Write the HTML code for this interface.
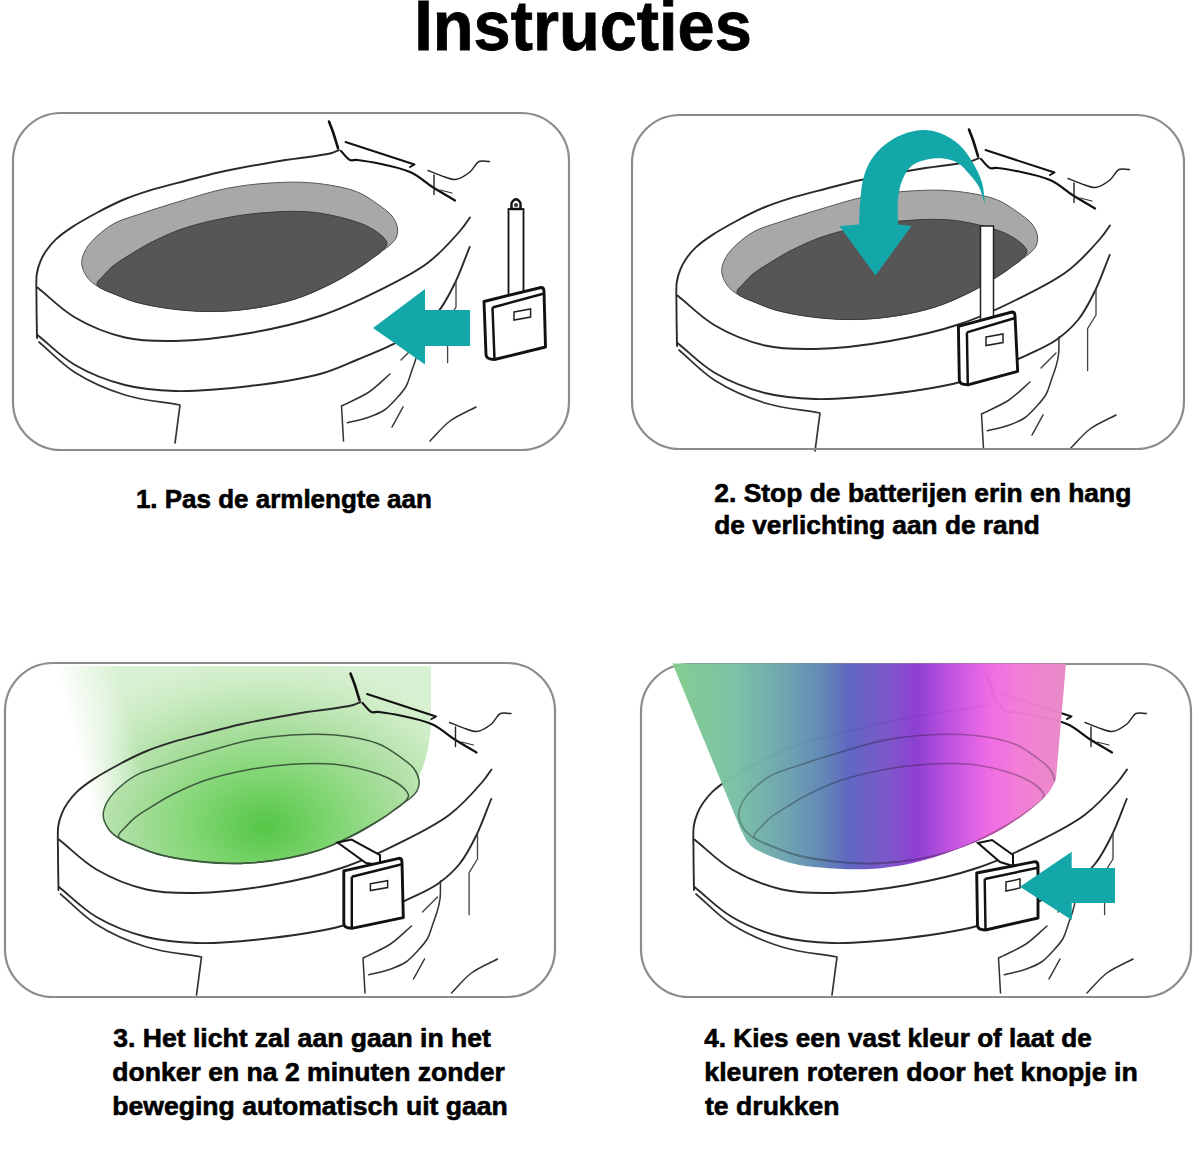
<!DOCTYPE html>
<html><head><meta charset="utf-8"><title>Instructies</title>
<style>
html,body{margin:0;padding:0;background:#fff;}
body{width:1200px;height:1150px;overflow:hidden;position:relative;}
svg{position:absolute;left:0;top:0;}
text{font-family:"Liberation Sans",sans-serif;font-weight:bold;fill:#000;}
</style></head><body>
<svg width="1200" height="1150" viewBox="0 0 1200 1150">
<defs>
<linearGradient id="rainbow" x1="672" y1="0" x2="1066" y2="0" gradientUnits="userSpaceOnUse">
<stop offset="0" stop-color="#80cc8a"/>
<stop offset="0.16" stop-color="#78c0a6"/>
<stop offset="0.30" stop-color="#6a9fb0"/>
<stop offset="0.38" stop-color="#5f86b4"/>
<stop offset="0.45" stop-color="#5a62c0"/>
<stop offset="0.55" stop-color="#7a52c8"/>
<stop offset="0.62" stop-color="#8a3ad0"/>
<stop offset="0.71" stop-color="#c14ee0"/>
<stop offset="0.80" stop-color="#ee66e4"/>
<stop offset="0.88" stop-color="#f27ad6"/>
<stop offset="1" stop-color="#e889c4"/>
</linearGradient>
<radialGradient id="greenglow" cx="265" cy="826" r="235" gradientUnits="userSpaceOnUse" gradientTransform="translate(265 826) scale(1 0.72) translate(-265 -826)">
<stop offset="0" stop-color="#55c646"/>
<stop offset="0.3" stop-color="#80d672"/>
<stop offset="0.6" stop-color="#addfa2"/>
<stop offset="0.85" stop-color="#cdecc5"/>
<stop offset="1" stop-color="#d9f1d3"/>
</radialGradient>
<linearGradient id="fadeL" x1="50" y1="0" x2="140" y2="0" gradientUnits="userSpaceOnUse">
<stop offset="0" stop-color="#fff" stop-opacity="1"/>
<stop offset="1" stop-color="#fff" stop-opacity="0"/>
</linearGradient>
<linearGradient id="fadeMask" x1="73" y1="737.2" x2="131" y2="721.8" gradientUnits="userSpaceOnUse">
<stop offset="0" stop-color="#fff" stop-opacity="0"/>
<stop offset="1" stop-color="#fff" stop-opacity="1"/>
</linearGradient>
</defs>

<text x="414.3" y="49.5" font-size="70" textLength="337.5" stroke="#000" stroke-width="0.8" lengthAdjust="spacingAndGlyphs">Instructies</text>
<g id="p1">
<path d="M81.7,263.5C81.5,259.3 83.2,254.8 85.0,251.0C86.8,247.2 89.1,244.2 92.6,240.5C97.6,235.3 105.7,228.2 113.5,223.8C121.5,219.3 130.0,217.4 140.0,214.0C152.6,209.7 168.8,204.6 183.3,200.3C197.7,196.0 212.1,191.3 226.7,188.4C241.0,185.6 255.5,183.9 270.0,183.0C284.4,182.1 298.9,181.6 313.3,183.0C327.8,184.4 345.0,187.2 356.7,191.7C365.5,195.1 372.1,200.3 378.3,204.7C383.5,208.4 388.7,211.8 392.0,216.0C394.8,219.7 396.9,224.1 397.5,228.0C398.0,231.4 397.4,235.0 396.0,238.0C394.6,241.0 391.5,243.8 389.0,246.0C386.8,248.0 384.5,249.1 382.0,251.0C379.0,253.2 375.4,256.0 372.0,258.5C368.5,261.1 366.5,263.0 361.2,266.2C348.9,273.6 319.8,291.0 296.7,298.5C272.6,306.3 245.1,310.6 219.2,311.4C193.4,312.2 160.5,307.7 141.7,303.6C130.6,301.1 123.7,297.8 115.8,294.6C109.0,291.9 102.1,289.3 97.0,286.0C92.9,283.3 89.5,280.7 87.0,277.0C84.4,273.2 82.0,268.0 81.7,263.5Z" fill="#a8a8a8" stroke="#555" stroke-width="1"/><path d="M97.0,284.4C96.4,281.5 101.4,278.0 104.0,275.0C106.8,271.8 109.5,268.8 113.5,265.6C118.9,261.2 127.9,256.0 134.4,252.0C139.9,248.6 143.7,246.2 150.0,243.0C158.9,238.5 171.3,232.6 183.3,228.5C196.6,224.0 212.2,220.4 226.7,217.7C241.1,215.0 255.5,213.2 270.0,212.3C284.4,211.4 298.9,210.7 313.3,212.3C327.8,213.9 345.7,218.3 356.7,222.0C363.9,224.4 369.2,227.0 374.0,230.0C378.0,232.5 381.8,235.3 384.0,238.0C385.6,240.0 387.2,242.0 387.0,244.0C386.8,246.3 384.2,248.8 382.0,251.0C379.4,253.7 375.4,256.0 372.0,258.5C368.5,261.1 365.6,263.3 361.2,266.2C354.5,270.6 345.1,276.7 335.4,281.7C324.0,287.6 309.8,294.2 296.7,298.5C284.0,302.7 270.9,305.3 257.9,307.5C245.1,309.6 232.1,311.0 219.2,311.4C206.3,311.8 193.3,311.3 180.4,310.0C167.4,308.7 153.2,306.5 141.7,303.6C132.1,301.2 123.6,298.1 115.8,294.6C108.9,291.6 97.9,288.3 97.0,284.4Z" fill="#575556" stroke="#3a3a3a" stroke-width="1"/>
<path d="M339.0,150.0C336.6,151.0 335.4,152.0 331.7,153.0C321.8,155.8 293.9,158.5 275.0,161.7C256.1,165.0 234.7,168.9 218.4,172.5C205.8,175.3 196.3,178.1 185.0,181.0C173.5,184.0 160.7,187.1 150.0,190.4C140.6,193.3 132.6,195.9 124.0,199.5C115.1,203.2 106.1,207.8 97.4,212.5C88.6,217.2 78.8,222.6 71.3,227.6C65.3,231.6 60.0,235.4 55.6,239.6C51.8,243.2 48.6,247.2 46.0,251.0C43.7,254.4 41.9,257.7 40.4,261.4C38.8,265.3 37.5,269.0 36.8,274.0C35.8,281.1 36.5,290.5 36.5,300.0C36.5,311.5 36.8,325.3 37.0,338.0" fill="none" stroke="#2a2a2a" stroke-width="1.9" stroke-linecap="round" stroke-linejoin="round" />
<path d="M37.5,287.5C50.0,297.5 60.9,309.3 75.0,317.5C89.9,326.2 108.0,333.6 125.0,337.5C141.4,341.3 156.7,341.3 175.0,341.0C197.5,340.6 225.6,337.3 250.0,333.0C273.9,328.8 298.0,323.4 320.0,316.0C340.7,309.1 360.3,299.8 378.7,290.6C396.0,282.0 413.5,273.7 427.6,263.0C440.5,253.2 453.4,238.6 460.8,230.0C465.1,225.0 466.9,221.7 470.0,217.5" fill="none" stroke="#2a2a2a" stroke-width="1.9" stroke-linecap="round" stroke-linejoin="round" />
<path d="M37.5,335.0C50.0,345.0 60.9,356.8 75.0,365.0C89.9,373.7 108.0,380.7 125.0,385.0C141.4,389.2 156.6,390.5 175.0,391.0C197.4,391.6 225.5,388.9 250.0,386.0C273.8,383.2 300.3,379.4 320.0,374.0C335.1,369.8 346.9,363.9 359.0,359.0C369.6,354.7 378.9,351.0 388.5,346.4C398.0,341.9 408.1,337.6 416.5,331.7C424.5,326.0 431.7,319.7 438.0,312.0C444.7,303.7 449.9,293.4 455.0,283.0C460.5,271.8 464.8,259.0 469.7,247.0" fill="none" stroke="#2a2a2a" stroke-width="1.9" stroke-linecap="round" stroke-linejoin="round" />
<path d="M39.0,342.0C51.0,352.2 61.3,363.9 75.0,372.5C89.7,381.8 107.6,389.6 125.0,395.0C142.6,400.5 161.7,401.7 180.0,405.0 L175,443" fill="none" stroke="#333" stroke-width="1.71" stroke-linecap="round" stroke-linejoin="round" />
<path d="M419.0,329.0C418.8,335.0 419.2,341.6 418.5,347.0C417.9,351.4 417.0,354.9 415.8,359.0C414.5,363.5 412.6,368.4 411.0,373.0C409.4,377.6 408.4,382.3 406.0,386.5C403.5,391.0 399.6,395.1 396.0,399.0C392.4,402.9 389.0,407.0 384.5,410.0C379.7,413.2 373.9,415.4 368.0,417.5C361.6,419.7 354.3,421.0 347.4,422.7" fill="none" stroke="#333" stroke-width="1.52" stroke-linecap="round" stroke-linejoin="round" />
<path d="M390.0,374.0C383.0,380.0 376.8,386.8 369.0,392.0C360.7,397.5 350.7,401.3 341.5,406.0 L343.5,441" fill="none" stroke="#333" stroke-width="1.52" stroke-linecap="round" stroke-linejoin="round" />
<path d="M456.0,281.0 L456.0,307.0 L447.6,320.6 L447.6,362.7" fill="none" stroke="#444" stroke-width="1.3299999999999998" stroke-linecap="round" stroke-linejoin="round" />
<path d="M392.0,427.0 L403.0,407.0" fill="none" stroke="#333" stroke-width="1.52" stroke-linecap="round" stroke-linejoin="round" />
<path d="M430.0,441.0C436.7,434.3 442.4,426.6 450.0,421.0C457.7,415.2 467.3,411.7 476.0,407.0" fill="none" stroke="#333" stroke-width="1.52" stroke-linecap="round" stroke-linejoin="round" />
<path d="M401.0,360.0 L416.0,345.0" fill="none" stroke="#444" stroke-width="1.3299999999999998" stroke-linecap="round" stroke-linejoin="round" />
<path d="M329.0,121.5C330.3,125.0 331.7,128.1 333.0,132.0C334.6,136.8 336.3,142.7 338.0,148.0" fill="none" stroke="#111" stroke-width="2.6" stroke-linecap="round" stroke-linejoin="round" />
<path d="M345.5,142.0 L414.5,164.5 L410.0,167.0" fill="none" stroke="#111" stroke-width="2.0" stroke-linecap="round" stroke-linejoin="round" />
<path d="M341.0,151.0C344.0,154.0 346.9,158.7 350.0,160.0C352.4,161.0 353.9,159.6 357.5,160.0C367.1,161.1 396.5,166.2 410.0,172.0C419.5,176.1 424.9,182.2 432.5,187.0C439.9,191.7 447.5,196.0 455.0,200.5" fill="none" stroke="#111" stroke-width="2.2" stroke-linecap="round" stroke-linejoin="round" />
<path d="M428.0,170.5C433.7,172.7 440.0,175.4 445.0,177.0C448.7,178.2 451.4,179.9 455.0,179.5C459.6,179.0 465.9,175.2 470.0,172.0C473.7,169.1 475.5,163.1 479.0,161.5C482.1,160.1 486.0,161.5 489.5,161.5" fill="none" stroke="#222" stroke-width="1.4" stroke-linecap="round" stroke-linejoin="round" />
<path d="M434.0,175.0 L434.0,194.5" fill="none" stroke="#222" stroke-width="1.4" stroke-linecap="round" stroke-linejoin="round" />
<path d="M440.0,190.0 L452.0,193.0" fill="none" stroke="#333" stroke-width="1.2" stroke-linecap="round" stroke-linejoin="round" />
<path d="M373.0,328.0 L425.0,289.0 L425.0,310.0 L470.0,310.0 L470.0,346.0 L425.0,346.0 L425.0,364.5Z" fill="#14a7a9"/>
<rect x="508.5" y="209" width="15" height="86" fill="#fff" stroke="#111" stroke-width="1.8"/>
<path d="M511.5,209 L511.5,203 Q516,195.5 520.5,203 L520.5,209 Z" fill="#fff" stroke="#111" stroke-width="2.4"/>
<circle cx="516" cy="205" r="2" fill="#333"/>
<path d="M484,301.5 L541,287.5 Q544,287.5 544,291.5 L545.5,347 L494.5,359.5 Q486,359.5 486,354.5 Z" fill="#fff" stroke="#111" stroke-width="2.9" stroke-linejoin="round"/><path d="M492.5,307.5 L544,293.5 M492.5,307.5 L494.5,359.5" fill="none" stroke="#111" stroke-width="2.465"/><path d="M514,312 L530.6,309 L530.6,317 L514,320 Z" fill="none" stroke="#222" stroke-width="1.5"/>
</g>
<rect x="13" y="113" width="556" height="337" rx="48" ry="48" fill="none" stroke="#8c8c8c" stroke-width="2.2"/>
<g id="p2" transform="translate(640 8)">
<path d="M81.7,263.5C81.5,259.3 83.2,254.8 85.0,251.0C86.8,247.2 89.1,244.2 92.6,240.5C97.6,235.3 105.7,228.2 113.5,223.8C121.5,219.3 130.0,217.4 140.0,214.0C152.6,209.7 168.8,204.6 183.3,200.3C197.7,196.0 212.1,191.3 226.7,188.4C241.0,185.6 255.5,183.9 270.0,183.0C284.4,182.1 298.9,181.6 313.3,183.0C327.8,184.4 345.0,187.2 356.7,191.7C365.5,195.1 372.1,200.3 378.3,204.7C383.5,208.4 388.7,211.8 392.0,216.0C394.8,219.7 396.9,224.1 397.5,228.0C398.0,231.4 397.4,235.0 396.0,238.0C394.6,241.0 391.5,243.8 389.0,246.0C386.8,248.0 384.5,249.1 382.0,251.0C379.0,253.2 375.4,256.0 372.0,258.5C368.5,261.1 366.5,263.0 361.2,266.2C348.9,273.6 319.8,291.0 296.7,298.5C272.6,306.3 245.1,310.6 219.2,311.4C193.4,312.2 160.5,307.7 141.7,303.6C130.6,301.1 123.7,297.8 115.8,294.6C109.0,291.9 102.1,289.3 97.0,286.0C92.9,283.3 89.5,280.7 87.0,277.0C84.4,273.2 82.0,268.0 81.7,263.5Z" fill="#a8a8a8" stroke="#555" stroke-width="1"/><path d="M97.0,284.4C96.4,281.5 101.4,278.0 104.0,275.0C106.8,271.8 109.5,268.8 113.5,265.6C118.9,261.2 127.9,256.0 134.4,252.0C139.9,248.6 143.7,246.2 150.0,243.0C158.9,238.5 171.3,232.6 183.3,228.5C196.6,224.0 212.2,220.4 226.7,217.7C241.1,215.0 255.5,213.2 270.0,212.3C284.4,211.4 298.9,210.7 313.3,212.3C327.8,213.9 345.7,218.3 356.7,222.0C363.9,224.4 369.2,227.0 374.0,230.0C378.0,232.5 381.8,235.3 384.0,238.0C385.6,240.0 387.2,242.0 387.0,244.0C386.8,246.3 384.2,248.8 382.0,251.0C379.4,253.7 375.4,256.0 372.0,258.5C368.5,261.1 365.6,263.3 361.2,266.2C354.5,270.6 345.1,276.7 335.4,281.7C324.0,287.6 309.8,294.2 296.7,298.5C284.0,302.7 270.9,305.3 257.9,307.5C245.1,309.6 232.1,311.0 219.2,311.4C206.3,311.8 193.3,311.3 180.4,310.0C167.4,308.7 153.2,306.5 141.7,303.6C132.1,301.2 123.6,298.1 115.8,294.6C108.9,291.6 97.9,288.3 97.0,284.4Z" fill="#575556" stroke="#3a3a3a" stroke-width="1"/>
<path d="M339.0,150.0C336.6,151.0 335.4,152.0 331.7,153.0C321.8,155.8 293.9,158.5 275.0,161.7C256.1,165.0 234.7,168.9 218.4,172.5C205.8,175.3 196.3,178.1 185.0,181.0C173.5,184.0 160.7,187.1 150.0,190.4C140.6,193.3 132.6,195.9 124.0,199.5C115.1,203.2 106.1,207.8 97.4,212.5C88.6,217.2 78.8,222.6 71.3,227.6C65.3,231.6 60.0,235.4 55.6,239.6C51.8,243.2 48.6,247.2 46.0,251.0C43.7,254.4 41.9,257.7 40.4,261.4C38.8,265.3 37.5,269.0 36.8,274.0C35.8,281.1 36.5,290.5 36.5,300.0C36.5,311.5 36.8,325.3 37.0,338.0" fill="none" stroke="#2a2a2a" stroke-width="1.9" stroke-linecap="round" stroke-linejoin="round" />
<path d="M37.5,287.5C50.0,297.5 60.9,309.3 75.0,317.5C89.9,326.2 108.0,333.6 125.0,337.5C141.4,341.3 156.7,341.3 175.0,341.0C197.5,340.6 225.6,337.3 250.0,333.0C273.9,328.8 298.0,323.4 320.0,316.0C340.7,309.1 360.3,299.8 378.7,290.6C396.0,282.0 413.5,273.7 427.6,263.0C440.5,253.2 453.4,238.6 460.8,230.0C465.1,225.0 466.9,221.7 470.0,217.5" fill="none" stroke="#2a2a2a" stroke-width="1.9" stroke-linecap="round" stroke-linejoin="round" />
<path d="M37.5,335.0C50.0,345.0 60.9,356.8 75.0,365.0C89.9,373.7 108.0,380.7 125.0,385.0C141.4,389.2 156.6,390.5 175.0,391.0C197.4,391.6 225.5,388.9 250.0,386.0C273.8,383.2 300.3,379.4 320.0,374.0C335.1,369.8 346.9,363.9 359.0,359.0C369.6,354.7 378.9,351.0 388.5,346.4C398.0,341.9 408.1,337.6 416.5,331.7C424.5,326.0 431.7,319.7 438.0,312.0C444.7,303.7 449.9,293.4 455.0,283.0C460.5,271.8 464.8,259.0 469.7,247.0" fill="none" stroke="#2a2a2a" stroke-width="1.9" stroke-linecap="round" stroke-linejoin="round" />
<path d="M39.0,342.0C51.0,352.2 61.3,363.9 75.0,372.5C89.7,381.8 107.6,389.6 125.0,395.0C142.6,400.5 161.7,401.7 180.0,405.0 L175,443" fill="none" stroke="#333" stroke-width="1.71" stroke-linecap="round" stroke-linejoin="round" />
<path d="M419.0,329.0C418.8,335.0 419.2,341.6 418.5,347.0C417.9,351.4 417.0,354.9 415.8,359.0C414.5,363.5 412.6,368.4 411.0,373.0C409.4,377.6 408.4,382.3 406.0,386.5C403.5,391.0 399.6,395.1 396.0,399.0C392.4,402.9 389.0,407.0 384.5,410.0C379.7,413.2 373.9,415.4 368.0,417.5C361.6,419.7 354.3,421.0 347.4,422.7" fill="none" stroke="#333" stroke-width="1.52" stroke-linecap="round" stroke-linejoin="round" />
<path d="M390.0,374.0C383.0,380.0 376.8,386.8 369.0,392.0C360.7,397.5 350.7,401.3 341.5,406.0 L343.5,441" fill="none" stroke="#333" stroke-width="1.52" stroke-linecap="round" stroke-linejoin="round" />
<path d="M456.0,281.0 L456.0,307.0 L447.6,320.6 L447.6,362.7" fill="none" stroke="#444" stroke-width="1.3299999999999998" stroke-linecap="round" stroke-linejoin="round" />
<path d="M392.0,427.0 L403.0,407.0" fill="none" stroke="#333" stroke-width="1.52" stroke-linecap="round" stroke-linejoin="round" />
<path d="M430.0,441.0C436.7,434.3 442.4,426.6 450.0,421.0C457.7,415.2 467.3,411.7 476.0,407.0" fill="none" stroke="#333" stroke-width="1.52" stroke-linecap="round" stroke-linejoin="round" />
<path d="M401.0,360.0 L416.0,345.0" fill="none" stroke="#444" stroke-width="1.3299999999999998" stroke-linecap="round" stroke-linejoin="round" />
<path d="M329.0,121.5C330.3,125.0 331.7,128.1 333.0,132.0C334.6,136.8 336.3,142.7 338.0,148.0" fill="none" stroke="#111" stroke-width="2.6" stroke-linecap="round" stroke-linejoin="round" />
<path d="M345.5,142.0 L414.5,164.5 L410.0,167.0" fill="none" stroke="#111" stroke-width="2.0" stroke-linecap="round" stroke-linejoin="round" />
<path d="M341.0,151.0C344.0,154.0 346.9,158.7 350.0,160.0C352.4,161.0 353.9,159.6 357.5,160.0C367.1,161.1 396.5,166.2 410.0,172.0C419.5,176.1 424.9,182.2 432.5,187.0C439.9,191.7 447.5,196.0 455.0,200.5" fill="none" stroke="#111" stroke-width="2.2" stroke-linecap="round" stroke-linejoin="round" />
<path d="M428.0,170.5C433.7,172.7 440.0,175.4 445.0,177.0C448.7,178.2 451.4,179.9 455.0,179.5C459.6,179.0 465.9,175.2 470.0,172.0C473.7,169.1 475.5,163.1 479.0,161.5C482.1,160.1 486.0,161.5 489.5,161.5" fill="none" stroke="#222" stroke-width="1.4" stroke-linecap="round" stroke-linejoin="round" />
<path d="M434.0,175.0 L434.0,194.5" fill="none" stroke="#222" stroke-width="1.4" stroke-linecap="round" stroke-linejoin="round" />
<path d="M440.0,190.0 L452.0,193.0" fill="none" stroke="#333" stroke-width="1.2" stroke-linecap="round" stroke-linejoin="round" />
</g>
<path d="M985.0,205.0C984.0,197.5 984.1,189.6 982.0,182.5C980.0,175.6 976.7,169.2 973.0,163.0C969.2,156.7 965.0,150.0 959.5,145.0C954.0,140.0 946.6,135.5 940.0,133.0C934.1,130.8 928.1,129.8 922.0,130.0C915.6,130.2 908.7,132.0 902.5,134.5C896.2,137.0 889.8,140.7 884.5,145.0C879.3,149.2 874.5,154.4 871.0,160.0C867.5,165.5 865.2,171.8 863.5,178.0C861.7,184.3 861.2,190.5 860.5,197.5C859.6,205.8 859.5,215.5 859.0,224.5 L839.5,226 L875.5,275.5 L911.5,226 L898.0,224.5C898.0,216.0 897.1,206.9 898.0,199.0C898.8,192.0 900.0,185.2 902.5,179.5C904.7,174.4 907.6,169.3 911.5,166.0C915.2,162.9 920.1,161.3 925.0,160.0C930.5,158.6 937.3,157.9 943.0,158.5C948.3,159.1 953.6,160.4 958.0,163.0C962.6,165.8 966.4,170.9 970.0,175.0C973.4,178.9 976.6,182.4 979.0,187.0C981.7,192.2 983.0,199.0 985.0,205.0 Z" fill="#14a7a9"/>
<rect x="980.5" y="226" width="13" height="94" fill="#fff" stroke="#222" stroke-width="1.5"/>
<path d="M958.4,326.4 L1012,312 Q1015,312 1015,316 L1017.7,371.3 L967.8,384.8 Q959.3,384.8 959.3,379.8 Z" fill="#fff" stroke="#111" stroke-width="2.9" stroke-linejoin="round"/><path d="M966.9,332.4 L1015,318 M966.9,332.4 L967.8,384.8" fill="none" stroke="#111" stroke-width="2.465"/><path d="M986,337 L1003,334 L1003,342.5 L986,345.5 Z" fill="none" stroke="#222" stroke-width="1.5"/>
<rect x="632" y="115" width="552" height="334" rx="48" ry="48" fill="none" stroke="#8c8c8c" stroke-width="2.2"/>
<mask id="coneMask" maskUnits="userSpaceOnUse" x="0" y="600" width="600" height="400"><rect x="0" y="600" width="600" height="400" fill="url(#fadeMask)"/></mask>
<path d="M20,666 L431,666 L431,722 C 430,745 425,765 418,778 L300,800 L120,822 L80,822 Z" fill="url(#greenglow)" mask="url(#coneMask)"/>
<path d="M103.2,815.5C103.0,811.3 104.7,806.8 106.5,803.0C108.3,799.2 110.6,796.2 114.1,792.5C119.1,787.3 127.2,780.2 135.0,775.8C143.0,771.3 151.5,769.4 161.5,766.0C174.1,761.7 190.3,756.6 204.8,752.3C219.2,748.0 233.6,743.3 248.2,740.4C262.5,737.6 277.0,735.9 291.5,735.0C305.9,734.1 320.4,733.6 334.8,735.0C349.3,736.4 366.5,739.2 378.2,743.7C387.0,747.1 393.6,752.3 399.8,756.7C405.0,760.4 410.2,763.8 413.5,768.0C416.3,771.7 418.4,776.1 419.0,780.0C419.5,783.4 418.9,787.0 417.5,790.0C416.1,793.0 413.0,795.8 410.5,798.0C408.3,800.0 406.0,801.1 403.5,803.0C400.5,805.2 396.9,808.0 393.5,810.5C390.0,813.1 388.0,815.0 382.7,818.2C370.4,825.6 341.3,843.0 318.2,850.5C294.1,858.3 266.6,862.6 240.7,863.4C214.9,864.2 182.0,859.7 163.2,855.6C152.1,853.1 145.2,849.8 137.3,846.6C130.5,843.9 123.6,841.3 118.5,838.0C114.4,835.3 111.0,832.7 108.5,829.0C105.9,825.2 103.5,820.0 103.2,815.5Z" fill="url(#greenglow)"/>
<g transform="translate(21.5 552)">
<path d="M81.7,263.5C81.5,259.3 83.2,254.8 85.0,251.0C86.8,247.2 89.1,244.2 92.6,240.5C97.6,235.3 105.7,228.2 113.5,223.8C121.5,219.3 130.0,217.4 140.0,214.0C152.6,209.7 168.8,204.6 183.3,200.3C197.7,196.0 212.1,191.3 226.7,188.4C241.0,185.6 255.5,183.9 270.0,183.0C284.4,182.1 298.9,181.6 313.3,183.0C327.8,184.4 345.0,187.2 356.7,191.7C365.5,195.1 372.1,200.3 378.3,204.7C383.5,208.4 388.7,211.8 392.0,216.0C394.8,219.7 396.9,224.1 397.5,228.0C398.0,231.4 397.4,235.0 396.0,238.0C394.6,241.0 391.5,243.8 389.0,246.0C386.8,248.0 384.5,249.1 382.0,251.0C379.0,253.2 375.4,256.0 372.0,258.5C368.5,261.1 366.5,263.0 361.2,266.2C348.9,273.6 319.8,291.0 296.7,298.5C272.6,306.3 245.1,310.6 219.2,311.4C193.4,312.2 160.5,307.7 141.7,303.6C130.6,301.1 123.7,297.8 115.8,294.6C109.0,291.9 102.1,289.3 97.0,286.0C92.9,283.3 89.5,280.7 87.0,277.0C84.4,273.2 82.0,268.0 81.7,263.5Z" fill="none" stroke="#3d5a3d" stroke-width="1.5"/><path d="M97.0,284.4C96.4,281.5 101.4,278.0 104.0,275.0C106.8,271.8 109.5,268.8 113.5,265.6C118.9,261.2 127.9,256.0 134.4,252.0C139.9,248.6 143.7,246.2 150.0,243.0C158.9,238.5 171.3,232.6 183.3,228.5C196.6,224.0 212.2,220.4 226.7,217.7C241.1,215.0 255.5,213.2 270.0,212.3C284.4,211.4 298.9,210.7 313.3,212.3C327.8,213.9 345.7,218.3 356.7,222.0C363.9,224.4 369.2,227.0 374.0,230.0C378.0,232.5 381.8,235.3 384.0,238.0C385.6,240.0 387.2,242.0 387.0,244.0C386.8,246.3 384.2,248.8 382.0,251.0C379.4,253.7 375.4,256.0 372.0,258.5C368.5,261.1 365.6,263.3 361.2,266.2C354.5,270.6 345.1,276.7 335.4,281.7C324.0,287.6 309.8,294.2 296.7,298.5C284.0,302.7 270.9,305.3 257.9,307.5C245.1,309.6 232.1,311.0 219.2,311.4C206.3,311.8 193.3,311.3 180.4,310.0C167.4,308.7 153.2,306.5 141.7,303.6C132.1,301.2 123.6,298.1 115.8,294.6C108.9,291.6 97.9,288.3 97.0,284.4Z" fill="none" stroke="#3d5a3d" stroke-width="1.5"/>
<path d="M339.0,150.0C336.6,151.0 335.4,152.0 331.7,153.0C321.8,155.8 293.9,158.5 275.0,161.7C256.1,165.0 234.7,168.9 218.4,172.5C205.8,175.3 196.3,178.1 185.0,181.0C173.5,184.0 160.7,187.1 150.0,190.4C140.6,193.3 132.6,195.9 124.0,199.5C115.1,203.2 106.1,207.8 97.4,212.5C88.6,217.2 78.8,222.6 71.3,227.6C65.3,231.6 60.0,235.4 55.6,239.6C51.8,243.2 48.6,247.2 46.0,251.0C43.7,254.4 41.9,257.7 40.4,261.4C38.8,265.3 37.5,269.0 36.8,274.0C35.8,281.1 36.5,290.5 36.5,300.0C36.5,311.5 36.8,325.3 37.0,338.0" fill="none" stroke="#2a2a2a" stroke-width="1.9" stroke-linecap="round" stroke-linejoin="round" />
<path d="M37.5,287.5C50.0,297.5 60.9,309.3 75.0,317.5C89.9,326.2 108.0,333.6 125.0,337.5C141.4,341.3 156.7,341.3 175.0,341.0C197.5,340.6 225.6,337.3 250.0,333.0C273.9,328.8 298.0,323.4 320.0,316.0C340.7,309.1 360.3,299.8 378.7,290.6C396.0,282.0 413.5,273.7 427.6,263.0C440.5,253.2 453.4,238.6 460.8,230.0C465.1,225.0 466.9,221.7 470.0,217.5" fill="none" stroke="#2a2a2a" stroke-width="1.9" stroke-linecap="round" stroke-linejoin="round" />
<path d="M37.5,335.0C50.0,345.0 60.9,356.8 75.0,365.0C89.9,373.7 108.0,380.7 125.0,385.0C141.4,389.2 156.6,390.5 175.0,391.0C197.4,391.6 225.5,388.9 250.0,386.0C273.8,383.2 300.3,379.4 320.0,374.0C335.1,369.8 346.9,363.9 359.0,359.0C369.6,354.7 378.9,351.0 388.5,346.4C398.0,341.9 408.1,337.6 416.5,331.7C424.5,326.0 431.7,319.7 438.0,312.0C444.7,303.7 449.9,293.4 455.0,283.0C460.5,271.8 464.8,259.0 469.7,247.0" fill="none" stroke="#2a2a2a" stroke-width="1.9" stroke-linecap="round" stroke-linejoin="round" />
<path d="M39.0,342.0C51.0,352.2 61.3,363.9 75.0,372.5C89.7,381.8 107.6,389.6 125.0,395.0C142.6,400.5 161.7,401.7 180.0,405.0 L175,443" fill="none" stroke="#333" stroke-width="1.71" stroke-linecap="round" stroke-linejoin="round" />
<path d="M419.0,329.0C418.8,335.0 419.2,341.6 418.5,347.0C417.9,351.4 417.0,354.9 415.8,359.0C414.5,363.5 412.6,368.4 411.0,373.0C409.4,377.6 408.4,382.3 406.0,386.5C403.5,391.0 399.6,395.1 396.0,399.0C392.4,402.9 389.0,407.0 384.5,410.0C379.7,413.2 373.9,415.4 368.0,417.5C361.6,419.7 354.3,421.0 347.4,422.7" fill="none" stroke="#333" stroke-width="1.52" stroke-linecap="round" stroke-linejoin="round" />
<path d="M390.0,374.0C383.0,380.0 376.8,386.8 369.0,392.0C360.7,397.5 350.7,401.3 341.5,406.0 L343.5,441" fill="none" stroke="#333" stroke-width="1.52" stroke-linecap="round" stroke-linejoin="round" />
<path d="M456.0,281.0 L456.0,307.0 L447.6,320.6 L447.6,362.7" fill="none" stroke="#444" stroke-width="1.3299999999999998" stroke-linecap="round" stroke-linejoin="round" />
<path d="M392.0,427.0 L403.0,407.0" fill="none" stroke="#333" stroke-width="1.52" stroke-linecap="round" stroke-linejoin="round" />
<path d="M430.0,441.0C436.7,434.3 442.4,426.6 450.0,421.0C457.7,415.2 467.3,411.7 476.0,407.0" fill="none" stroke="#333" stroke-width="1.52" stroke-linecap="round" stroke-linejoin="round" />
<path d="M401.0,360.0 L416.0,345.0" fill="none" stroke="#444" stroke-width="1.3299999999999998" stroke-linecap="round" stroke-linejoin="round" />
<path d="M329.0,121.5C330.3,125.0 331.7,128.1 333.0,132.0C334.6,136.8 336.3,142.7 338.0,148.0" fill="none" stroke="#111" stroke-width="2.6" stroke-linecap="round" stroke-linejoin="round" />
<path d="M345.5,142.0 L414.5,164.5 L410.0,167.0" fill="none" stroke="#111" stroke-width="2.0" stroke-linecap="round" stroke-linejoin="round" />
<path d="M341.0,151.0C344.0,154.0 346.9,158.7 350.0,160.0C352.4,161.0 353.9,159.6 357.5,160.0C367.1,161.1 396.5,166.2 410.0,172.0C419.5,176.1 424.9,182.2 432.5,187.0C439.9,191.7 447.5,196.0 455.0,200.5" fill="none" stroke="#111" stroke-width="2.2" stroke-linecap="round" stroke-linejoin="round" />
<path d="M428.0,170.5C433.7,172.7 440.0,175.4 445.0,177.0C448.7,178.2 451.4,179.9 455.0,179.5C459.6,179.0 465.9,175.2 470.0,172.0C473.7,169.1 475.5,163.1 479.0,161.5C482.1,160.1 486.0,161.5 489.5,161.5" fill="none" stroke="#222" stroke-width="1.4" stroke-linecap="round" stroke-linejoin="round" />
<path d="M434.0,175.0 L434.0,194.5" fill="none" stroke="#222" stroke-width="1.4" stroke-linecap="round" stroke-linejoin="round" />
<path d="M440.0,190.0 L452.0,193.0" fill="none" stroke="#333" stroke-width="1.2" stroke-linecap="round" stroke-linejoin="round" />
</g>
<path d="M337.6,842.6 L351.6,839.5 L380,855 L380,865 L366,863 Z" fill="#fff" stroke="#111" stroke-width="2"/>
<path d="M343.8,870.8 L399,858.3 Q402,858.3 402,862.3 L403.3,917.7 L351.8,928.3 Q343.8,928.3 343.8,923.3 Z" fill="#fff" stroke="#111" stroke-width="2.9" stroke-linejoin="round"/><path d="M351.8,876.8 L402,864.3 M351.8,876.8 L351.8,928.3" fill="none" stroke="#111" stroke-width="2.465"/><path d="M370.4,883.7 L387.6,880.7 L387.6,887.6 L370.4,890.6 Z" fill="none" stroke="#222" stroke-width="1.5"/>
<rect x="5" y="663" width="550" height="334" rx="48" ry="48" fill="none" stroke="#8c8c8c" stroke-width="2.2"/>
<rect x="641" y="664" width="550" height="333" rx="48" ry="48" fill="none" stroke="#8c8c8c" stroke-width="2.2"/>
<g transform="translate(657 552)">
<path d="M339.0,150.0C336.6,151.0 335.4,152.0 331.7,153.0C321.8,155.8 293.9,158.5 275.0,161.7C256.1,165.0 234.7,168.9 218.4,172.5C205.8,175.3 196.3,178.1 185.0,181.0C173.5,184.0 160.7,187.1 150.0,190.4C140.6,193.3 132.6,195.9 124.0,199.5C115.1,203.2 106.1,207.8 97.4,212.5C88.6,217.2 78.8,222.6 71.3,227.6C65.3,231.6 60.0,235.4 55.6,239.6C51.8,243.2 48.6,247.2 46.0,251.0C43.7,254.4 41.9,257.7 40.4,261.4C38.8,265.3 37.5,269.0 36.8,274.0C35.8,281.1 36.5,290.5 36.5,300.0C36.5,311.5 36.8,325.3 37.0,338.0" fill="none" stroke="#2a2a2a" stroke-width="1.9" stroke-linecap="round" stroke-linejoin="round" />
<path d="M37.5,287.5C50.0,297.5 60.9,309.3 75.0,317.5C89.9,326.2 108.0,333.6 125.0,337.5C141.4,341.3 156.7,341.3 175.0,341.0C197.5,340.6 225.6,337.3 250.0,333.0C273.9,328.8 298.0,323.4 320.0,316.0C340.7,309.1 360.3,299.8 378.7,290.6C396.0,282.0 413.5,273.7 427.6,263.0C440.5,253.2 453.4,238.6 460.8,230.0C465.1,225.0 466.9,221.7 470.0,217.5" fill="none" stroke="#2a2a2a" stroke-width="1.9" stroke-linecap="round" stroke-linejoin="round" />
<path d="M37.5,335.0C50.0,345.0 60.9,356.8 75.0,365.0C89.9,373.7 108.0,380.7 125.0,385.0C141.4,389.2 156.6,390.5 175.0,391.0C197.4,391.6 225.5,388.9 250.0,386.0C273.8,383.2 300.3,379.4 320.0,374.0C335.1,369.8 346.9,363.9 359.0,359.0C369.6,354.7 378.9,351.0 388.5,346.4C398.0,341.9 408.1,337.6 416.5,331.7C424.5,326.0 431.7,319.7 438.0,312.0C444.7,303.7 449.9,293.4 455.0,283.0C460.5,271.8 464.8,259.0 469.7,247.0" fill="none" stroke="#2a2a2a" stroke-width="1.9" stroke-linecap="round" stroke-linejoin="round" />
<path d="M39.0,342.0C51.0,352.2 61.3,363.9 75.0,372.5C89.7,381.8 107.6,389.6 125.0,395.0C142.6,400.5 161.7,401.7 180.0,405.0 L175,443" fill="none" stroke="#333" stroke-width="1.71" stroke-linecap="round" stroke-linejoin="round" />
<path d="M419.0,329.0C418.8,335.0 419.2,341.6 418.5,347.0C417.9,351.4 417.0,354.9 415.8,359.0C414.5,363.5 412.6,368.4 411.0,373.0C409.4,377.6 408.4,382.3 406.0,386.5C403.5,391.0 399.6,395.1 396.0,399.0C392.4,402.9 389.0,407.0 384.5,410.0C379.7,413.2 373.9,415.4 368.0,417.5C361.6,419.7 354.3,421.0 347.4,422.7" fill="none" stroke="#333" stroke-width="1.52" stroke-linecap="round" stroke-linejoin="round" />
<path d="M390.0,374.0C383.0,380.0 376.8,386.8 369.0,392.0C360.7,397.5 350.7,401.3 341.5,406.0 L343.5,441" fill="none" stroke="#333" stroke-width="1.52" stroke-linecap="round" stroke-linejoin="round" />
<path d="M456.0,281.0 L456.0,307.0 L447.6,320.6 L447.6,362.7" fill="none" stroke="#444" stroke-width="1.3299999999999998" stroke-linecap="round" stroke-linejoin="round" />
<path d="M392.0,427.0 L403.0,407.0" fill="none" stroke="#333" stroke-width="1.52" stroke-linecap="round" stroke-linejoin="round" />
<path d="M430.0,441.0C436.7,434.3 442.4,426.6 450.0,421.0C457.7,415.2 467.3,411.7 476.0,407.0" fill="none" stroke="#333" stroke-width="1.52" stroke-linecap="round" stroke-linejoin="round" />
<path d="M401.0,360.0 L416.0,345.0" fill="none" stroke="#444" stroke-width="1.3299999999999998" stroke-linecap="round" stroke-linejoin="round" />
<path d="M329.0,121.5C330.3,125.0 331.7,128.1 333.0,132.0C334.6,136.8 336.3,142.7 338.0,148.0" fill="none" stroke="#111" stroke-width="2.6" stroke-linecap="round" stroke-linejoin="round" />
<path d="M345.5,142.0 L414.5,164.5 L410.0,167.0" fill="none" stroke="#111" stroke-width="2.0" stroke-linecap="round" stroke-linejoin="round" />
<path d="M341.0,151.0C344.0,154.0 346.9,158.7 350.0,160.0C352.4,161.0 353.9,159.6 357.5,160.0C367.1,161.1 396.5,166.2 410.0,172.0C419.5,176.1 424.9,182.2 432.5,187.0C439.9,191.7 447.5,196.0 455.0,200.5" fill="none" stroke="#111" stroke-width="2.2" stroke-linecap="round" stroke-linejoin="round" />
<path d="M428.0,170.5C433.7,172.7 440.0,175.4 445.0,177.0C448.7,178.2 451.4,179.9 455.0,179.5C459.6,179.0 465.9,175.2 470.0,172.0C473.7,169.1 475.5,163.1 479.0,161.5C482.1,160.1 486.0,161.5 489.5,161.5" fill="none" stroke="#222" stroke-width="1.4" stroke-linecap="round" stroke-linejoin="round" />
<path d="M434.0,175.0 L434.0,194.5" fill="none" stroke="#222" stroke-width="1.4" stroke-linecap="round" stroke-linejoin="round" />
<path d="M440.0,190.0 L452.0,193.0" fill="none" stroke="#333" stroke-width="1.2" stroke-linecap="round" stroke-linejoin="round" />
</g>
<path d="M672.5,663.5 L741,830 C744.0,835.0 745.7,840.8 750.0,845.0C754.9,849.8 762.8,852.9 770.0,856.0C777.7,859.3 786.6,862.1 795.0,864.0C803.3,865.9 810.2,866.7 820.0,867.5C833.8,868.7 854.0,869.9 870.0,869.0C884.9,868.2 898.9,866.1 913.0,863.0C927.2,859.8 941.3,855.0 955.0,850.0C968.6,845.0 982.4,839.7 995.0,833.0C1007.4,826.4 1020.4,817.6 1030.0,810.0C1037.6,804.0 1044.5,797.9 1049.0,792.0C1052.4,787.6 1053.7,783.3 1056.0,779.0 L1059,745 L1066,663.5 Z" fill="url(#rainbow)" opacity="0.97"/>
<clipPath id="coneClip"><path d="M672.5,663.5 L741,830 C744.0,835.0 745.7,840.8 750.0,845.0C754.9,849.8 762.8,852.9 770.0,856.0C777.7,859.3 786.6,862.1 795.0,864.0C803.3,865.9 810.2,866.7 820.0,867.5C833.8,868.7 854.0,869.9 870.0,869.0C884.9,868.2 898.9,866.1 913.0,863.0C927.2,859.8 941.3,855.0 955.0,850.0C968.6,845.0 982.4,839.7 995.0,833.0C1007.4,826.4 1020.4,817.6 1030.0,810.0C1037.6,804.0 1044.5,797.9 1049.0,792.0C1052.4,787.6 1053.7,783.3 1056.0,779.0 L1059,745 L1066,663.5 Z"/></clipPath>
<g clip-path="url(#coneClip)"><g transform="translate(657 552)" opacity="0.3">
<path d="M81.7,263.5C81.5,259.3 83.2,254.8 85.0,251.0C86.8,247.2 89.1,244.2 92.6,240.5C97.6,235.3 105.7,228.2 113.5,223.8C121.5,219.3 130.0,217.4 140.0,214.0C152.6,209.7 168.8,204.6 183.3,200.3C197.7,196.0 212.1,191.3 226.7,188.4C241.0,185.6 255.5,183.9 270.0,183.0C284.4,182.1 298.9,181.6 313.3,183.0C327.8,184.4 345.0,187.2 356.7,191.7C365.5,195.1 372.1,200.3 378.3,204.7C383.5,208.4 388.7,211.8 392.0,216.0C394.8,219.7 396.9,224.1 397.5,228.0C398.0,231.4 397.4,235.0 396.0,238.0C394.6,241.0 391.5,243.8 389.0,246.0C386.8,248.0 384.5,249.1 382.0,251.0C379.0,253.2 375.4,256.0 372.0,258.5C368.5,261.1 366.5,263.0 361.2,266.2C348.9,273.6 319.8,291.0 296.7,298.5C272.6,306.3 245.1,310.6 219.2,311.4C193.4,312.2 160.5,307.7 141.7,303.6C130.6,301.1 123.7,297.8 115.8,294.6C109.0,291.9 102.1,289.3 97.0,286.0C92.9,283.3 89.5,280.7 87.0,277.0C84.4,273.2 82.0,268.0 81.7,263.5Z" fill="none" stroke="#111" stroke-width="1.6"/><path d="M97.0,284.4C96.4,281.5 101.4,278.0 104.0,275.0C106.8,271.8 109.5,268.8 113.5,265.6C118.9,261.2 127.9,256.0 134.4,252.0C139.9,248.6 143.7,246.2 150.0,243.0C158.9,238.5 171.3,232.6 183.3,228.5C196.6,224.0 212.2,220.4 226.7,217.7C241.1,215.0 255.5,213.2 270.0,212.3C284.4,211.4 298.9,210.7 313.3,212.3C327.8,213.9 345.7,218.3 356.7,222.0C363.9,224.4 369.2,227.0 374.0,230.0C378.0,232.5 381.8,235.3 384.0,238.0C385.6,240.0 387.2,242.0 387.0,244.0C386.8,246.3 384.2,248.8 382.0,251.0C379.4,253.7 375.4,256.0 372.0,258.5C368.5,261.1 365.6,263.3 361.2,266.2C354.5,270.6 345.1,276.7 335.4,281.7C324.0,287.6 309.8,294.2 296.7,298.5C284.0,302.7 270.9,305.3 257.9,307.5C245.1,309.6 232.1,311.0 219.2,311.4C206.3,311.8 193.3,311.3 180.4,310.0C167.4,308.7 153.2,306.5 141.7,303.6C132.1,301.2 123.6,298.1 115.8,294.6C108.9,291.6 97.9,288.3 97.0,284.4Z" fill="none" stroke="#111" stroke-width="1.6"/>
</g></g>
<path d="M978,843 L992,840 L1013,855 L1013,866 L1000,862 Z" fill="#fff" stroke="#111" stroke-width="2"/>
<path d="M976.7,873 L1035,861.7 Q1038,861.7 1038,865.7 L1038,918 L985.5,930 Q977.5,930 977.5,925 Z" fill="#fff" stroke="#111" stroke-width="2.9" stroke-linejoin="round"/><path d="M984.7,879 L1038,867.7 M984.7,879 L985.5,930" fill="none" stroke="#111" stroke-width="2.465"/><path d="M1006,882 L1020,879 L1020,888 L1006,891 Z" fill="none" stroke="#222" stroke-width="1.5"/>
<path d="M1020.0,886.7 L1071.7,851.7 L1071.7,868.0 L1115.0,868.0 L1115.0,903.0 L1071.7,903.0 L1071.7,920.0Z" fill="#14a7a9"/>
<text x="135.9" y="507.5" font-size="26" textLength="296.0" lengthAdjust="spacingAndGlyphs" stroke="#000" stroke-width="0.6">1. Pas de armlengte aan</text>
<text x="714.3" y="501.5" font-size="26" textLength="417.0" lengthAdjust="spacingAndGlyphs" stroke="#000" stroke-width="0.6">2. Stop de batterijen erin en hang</text>
<text x="714.3" y="534" font-size="26" textLength="325.5" lengthAdjust="spacingAndGlyphs" stroke="#000" stroke-width="0.6">de verlichting aan de rand</text>
<text x="113.3" y="1047" font-size="26" textLength="377.5" lengthAdjust="spacingAndGlyphs" stroke="#000" stroke-width="0.6">3. Het licht zal aan gaan in het</text>
<text x="112.3" y="1080.5" font-size="26" textLength="392.5" lengthAdjust="spacingAndGlyphs" stroke="#000" stroke-width="0.6">donker en na 2 minuten zonder</text>
<text x="112.3" y="1115" font-size="26" textLength="395.5" lengthAdjust="spacingAndGlyphs" stroke="#000" stroke-width="0.6">beweging automatisch uit gaan</text>
<text x="704.3" y="1047" font-size="26" textLength="387.5" lengthAdjust="spacingAndGlyphs" stroke="#000" stroke-width="0.6">4. Kies een vast kleur of laat de</text>
<text x="704.3" y="1080.5" font-size="26" textLength="433.5" lengthAdjust="spacingAndGlyphs" stroke="#000" stroke-width="0.6">kleuren roteren door het knopje in</text>
<text x="705" y="1115" font-size="26" textLength="134.5" lengthAdjust="spacingAndGlyphs" stroke="#000" stroke-width="0.6">te drukken</text>
</svg></body></html>
